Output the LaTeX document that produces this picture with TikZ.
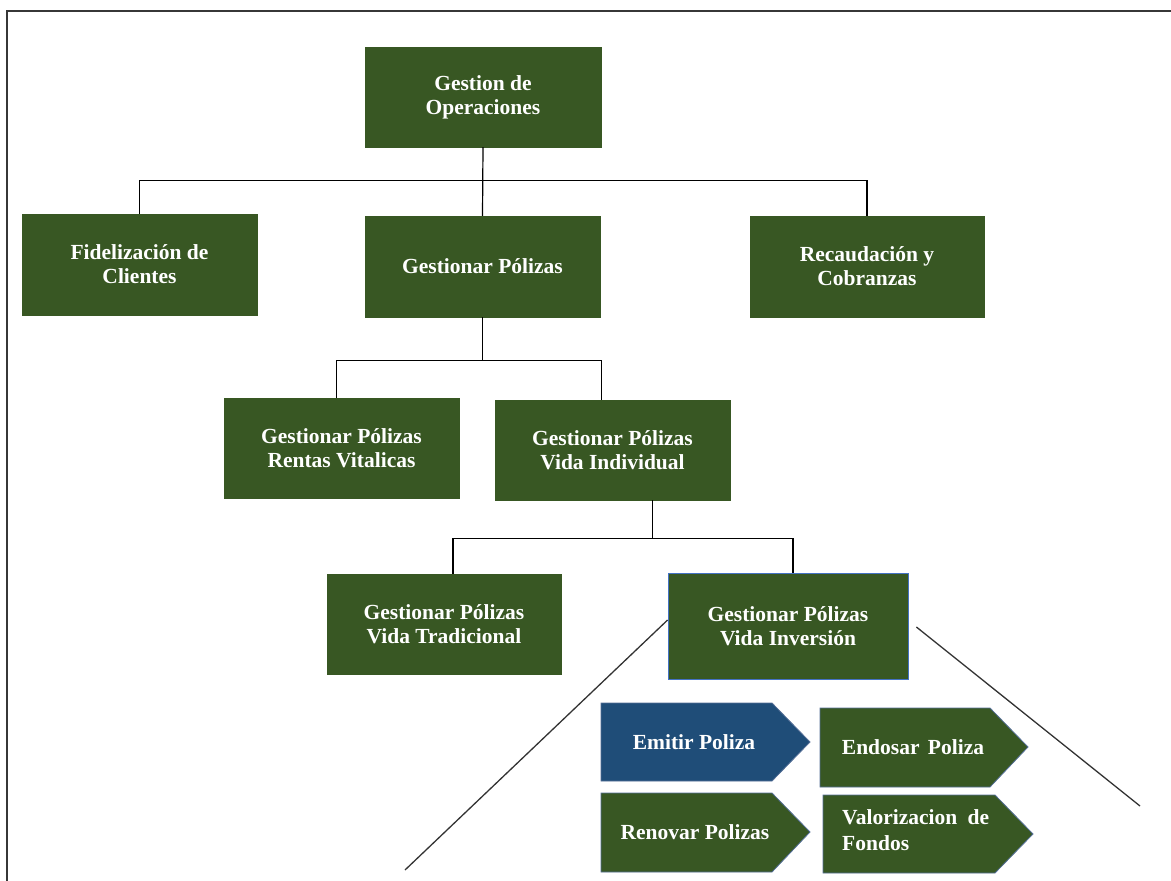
\documentclass[tikz,border=0pt]{standalone}
\usepackage{fontspec}
\setmainfont{Liberation Serif}
\usetikzlibrary{calc}
\definecolor{boxgreen}{RGB}{56,87,35}
\definecolor{boxblue}{RGB}{31,77,120}
\definecolor{edgeblue}{RGB}{68,114,196}
\definecolor{tipedge}{RGB}{84,110,150}
\definecolor{framegray}{RGB}{55,55,55}
\begin{document}
\begin{tikzpicture}[x=1pt,y=-1pt,
  unit/.style={rectangle, fill=boxgreen, draw=boxgreen, text=white,
    font=\fontsize{21.5}{24}\selectfont\bfseries, align=center,
    inner sep=0pt},
  link/.style={draw=black, line width=1.2pt},
  tip/.style={draw=tipedge, line width=0.8pt},
  tiptext/.style={text=white, font=\fontsize{21.5}{26}\selectfont\bfseries, inner sep=0pt}]
\useasboundingbox (0,0) rectangle (1171,881);

% outer frame (top and left edges)
\draw[framegray, line width=2pt] (7,881) -- (7,11) -- (1171,11);

% hierarchy boxes
\node[unit, minimum width=236pt, minimum height=100pt] (ops) at (483,97) {Gestion de\\Operaciones};
\node[unit, minimum width=235pt, minimum height=101pt] (fid) at (139.5,264.5) {Fidelización de\\Clientes};
\node[unit, minimum width=235pt, minimum height=101pt] (gp) at (482.5,266.5) {Gestionar Pólizas};
\node[unit, minimum width=234pt, minimum height=101pt] (rec) at (867,266.5) {Recaudación y\\Cobranzas};
\node[unit, minimum width=235pt, minimum height=100pt] (rv) at (341.5,448) {Gestionar Pólizas\\Rentas Vitalicas};
\node[unit, minimum width=235pt, minimum height=100pt] (vi) at (612.5,450) {Gestionar Pólizas\\Vida Individual};
\node[unit, minimum width=234pt, minimum height=100pt] (vt) at (444,624) {Gestionar Pólizas\\Vida Tradicional};
\node[unit, draw=edgeblue, line width=0.8pt, minimum width=240pt, minimum height=106pt] (vinv) at (788,626) {Gestionar Pólizas\\Vida Inversión};

% connectors: first level
\coordinate (b1) at ($(ops.south)+(0,33)$);
\draw[link] (ops.south) -- (gp.north);
\draw[link] (b1) -| (fid.north);
\draw[link] (b1) -| (rec.north);

% connectors: second level
\coordinate (b2) at ($(gp.south)+(0,43)$);
\draw[link] (gp.south) -- (b2);
\draw[link] (b2) -| ([xshift=-5pt]rv.north);
\draw[link] (b2) -| ([xshift=-11pt]vi.north);

% connectors: third level
\coordinate (v0) at ([xshift=40pt]vi.south);
\coordinate (b3) at ($(v0)+(0,38)$);
\draw[link] (v0) -- (b3);
\draw[link] (b3) -| ([xshift=9pt]vt.north);
\draw[link] (b3) -| ([xshift=5pt]vinv.north);

% expansion lines below the investment node
\coordinate (fanL) at (405,870);
\coordinate (fanR) at (1140,806);
\draw[link, line width=1.3pt, black!80] ([yshift=6pt]vinv.west) -- (fanL);
\draw[link, line width=1.3pt, black!80] ([xshift=8pt,yshift=-1pt]vinv.east) -- (fanR);

% process chevrons
\draw[tip, fill=boxblue] (601,703) -- (772,703) -- (810,742) -- (772,781) -- (601,781) -- cycle;
\node[tiptext] (emit) at (694,742) {Emitir Poliza};

\draw[tip, fill=boxgreen] (820,708) -- (990,708) -- (1028,747) -- (990,787) -- (820,787) -- cycle;
\node[tiptext] (endo) at (913,747) {Endosar\hspace{3pt} Poliza};

\draw[tip, fill=boxgreen] (601,793) -- (772,793) -- (810,832) -- (772,872) -- (601,872) -- cycle;
\node[tiptext] (reno) at (695,832) {Renovar Polizas};

\draw[tip, fill=boxgreen] (823,795) -- (995,795) -- (1033,834) -- (995,873) -- (823,873) -- cycle;
\node[tiptext, align=left, anchor=west] (valo) at (842,830) {Valorizacion\hspace{5pt} de\\Fondos};
\end{tikzpicture}
\end{document}
